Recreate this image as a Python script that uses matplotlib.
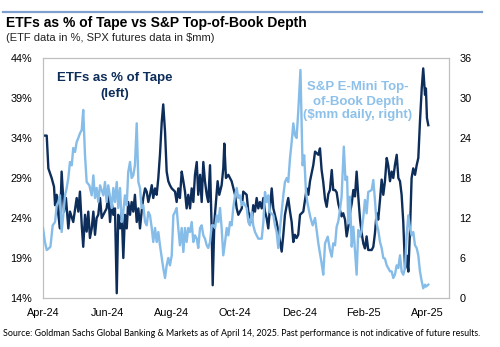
import matplotlib
matplotlib.use("Agg")
import matplotlib.pyplot as plt
from matplotlib.lines import Line2D
import numpy as np

# ---------------- data ----------------
# x = trading-day index since 1-Apr-2024
etf_day = [0, 2.5, 3.6, 5.8, 7.4, 8.1, 9.2, 10.3, 11.4, 12.5, 14.1, 15.4, 17.0, 18.1, 20.3, 22.6, 23.7,
           24.8, 26.0, 27.0, 28.2, 29.3, 30.4, 31.5, 32.7, 33.8, 34.9, 36.0, 37.1, 38.3, 39.4, 41.6,
           42.7, 43.8, 45.0, 46.1, 47.2, 48.3, 49.5, 50.5, 51.7, 52.8, 53.9, 55.0, 56.2, 57.2, 58.4,
           59.5, 60.6, 61.7, 62.9, 64.0, 65.1, 66.2, 67.3, 68.5, 69.6, 70.7, 71.8, 73.0, 74.0, 75.2,
           76.3, 77.4, 78.5, 79.7, 80.7, 81.9, 83.0, 84.1, 85.2, 86.4, 88.6, 89.7, 90.8, 91.9, 93.1,
           94.2, 95.3, 96.4, 97.5, 98.7, 99.8, 100.9, 102.0, 103.2, 104.2, 105.4, 106.5, 107.6, 108.7,
           109.9, 110.9, 112.1, 113.2, 113.9, 115.0, 116.1, 117.2, 118.3, 119.9, 121.0, 121.7, 122.8,
           124.4, 126.6, 128.9, 130.0, 131.1, 132.2, 133.4, 134.4, 136.7, 137.8, 140.1, 141.1, 142.3,
           143.4, 144.5, 145.6, 146.8, 147.9, 149.0, 150.1, 151.2, 152.3, 153.5, 154.6, 156.8, 159.1,
           160.2, 161.3, 162.4, 163.6, 164.6, 165.8, 166.9, 168.0, 169.1, 170.2, 171.3, 172.5, 174.7,
           177.0, 178.1, 179.2, 181.4, 182.6, 184.8, 185.9, 187.0, 188.1, 189.3, 190.4, 191.5, 192.6,
           193.8, 194.8, 196.0, 197.1, 198.2, 199.3, 200.4, 201.5, 202.7, 203.8, 204.9, 206.0, 207.2,
           208.3, 209.4, 210.5, 211.6, 212.8, 213.9, 215.0, 216.1, 217.2, 218.3, 220.6, 221.7, 222.8,
           223.9, 225.0, 226.2, 227.3, 228.4, 229.5, 230.7, 231.7, 232.9, 234.0, 235.1, 236.2, 237.4,
           238.5, 239.6, 240.7, 241.8, 243.0, 244.1, 245.2, 246.3, 247.4, 248.5, 249.7, 250.8, 251.9,
           253.0, 254.2, 255.2, 256.4, 257.0, 257.7, 258.6]
etf_pct = [34.3, 34.3, 30.2, 29.0, 27.9, 25.6, 26.9, 24.4, 22.7, 29.8, 24.8, 26.5, 22.7, 24.8, 23.5, 26.5, 24.8,
           27.3, 23.1, 20.4, 24.4, 22.3, 24.8, 21.5, 22.7, 24.8, 21.9, 24.0, 24.4, 26.5, 24.0, 24.8,
           25.2, 26.9, 23.5, 26.0, 24.4, 25.2, 14.6, 24.4, 22.7, 24.8, 19.0, 24.4, 22.7, 26.0, 24.4,
           26.0, 24.8, 26.9, 23.5, 25.2, 22.7, 24.8, 26.5, 27.7, 27.3, 26.0, 26.9, 28.1, 26.5, 27.7,
           26.9, 29.0, 31.9, 36.0, 38.2, 34.8, 29.8, 28.6, 28.1, 27.7, 27.3, 26.0, 27.7, 26.5, 29.8,
           28.6, 27.3, 25.2, 26.9, 25.2, 27.7, 26.0, 29.4, 31.0, 26.9, 29.4, 26.0, 31.0, 28.6,
           26.9, 26.0, 30.6, 22.7, 15.6, 23.5, 26.0, 28.6, 26.9, 28.1, 30.2, 33.3, 29.0,
           29.4, 28.6, 26.9, 25.2, 24.4, 24.8, 25.2, 27.3, 26.9, 24.8, 23.5, 25.6, 24.8,
           26.5, 25.2, 26.0, 25.2, 26.5, 24.8, 24.0, 22.7, 25.2, 27.7, 25.2, 23.5, 21.0,
           19.8, 21.9, 24.4, 25.6, 26.5, 24.8, 23.5, 21.0, 21.9, 21.5, 21.9, 24.4, 24.8,
           27.7, 26.9, 28.6, 30.6, 32.3, 31.9, 32.7, 30.0, 28.5, 26.3, 25.4, 27.0, 27.5,
           30.0, 27.5, 27.5, 27.2, 25.8, 25.0, 24.2, 24.6, 23.8, 21.7, 22.9, 24.6, 25.8,
           27.5, 26.7, 29.8, 26.7, 23.8, 22.1, 20.8, 20.2, 21.7, 20.0, 20.0, 20.4, 22.1,
           24.6, 23.8, 26.3, 28.8, 26.9, 28.6, 31.5, 30.6, 28.6, 29.8, 29.0, 30.6, 31.9,
           29.0, 28.6, 26.9, 23.5, 17.7, 19.3, 17.3, 22.3, 29.0, 30.2, 29.4, 30.6, 31.5,
           36.0, 40.2, 42.7, 39.4, 40.2, 36.5, 35.6]

depth_day = [0, 1.3, 2.5, 4.2, 5.0, 6.5, 8.1, 9.2, 10.3, 11.4, 12.5, 13.6, 14.8, 15.9, 17.0, 18.1, 19.3,
             20.3, 21.5, 22.6, 23.7, 24.8, 26.0, 27.0, 28.2, 29.3, 31.1, 32.7, 33.8, 34.9, 36.0, 37.1,
             38.3, 40.5, 41.6, 42.7, 43.8, 46.1, 47.2, 48.3, 49.5, 50.5, 51.7, 52.8, 53.9, 55.0, 56.2,
             57.2, 58.4, 59.5, 60.6, 61.7, 62.9, 64.0, 65.1, 66.2, 67.3, 68.5, 69.6, 70.7, 71.8, 73.0,
             74.0, 75.2, 76.3, 77.4, 78.5, 79.7, 80.7, 81.9, 83.0, 84.1, 85.2, 86.4, 87.5, 88.6, 89.7,
             90.8, 91.9, 93.1, 94.2, 95.3, 96.4, 97.5, 98.7, 99.8, 100.9, 102.0, 103.2, 104.2, 105.4,
             106.5, 107.6, 108.7, 109.9, 110.9, 112.1, 113.2, 114.3, 115.5, 116.6, 117.7, 118.8, 119.9,
             121.0, 122.2, 123.3, 124.4, 125.5, 126.6, 127.7, 128.9, 130.0, 131.1, 132.2, 133.4, 134.4,
             136.7, 137.8, 138.9, 140.1, 141.1, 142.3, 144.5, 146.8, 147.9, 149.0, 150.1, 151.2, 152.3,
             154.6, 155.7, 156.8, 157.9, 159.1, 160.2, 161.3, 162.4, 163.6, 164.6, 165.8, 166.9, 168.0,
             169.1, 170.2, 171.3, 172.8, 174.2, 175.3, 176.5, 177.4, 178.7, 179.7, 181.0, 182.6, 184.8,
             187.0, 188.1, 189.3, 191.1, 192.6, 193.8, 194.8, 196.0, 197.1, 198.2, 199.3, 200.4, 201.9,
             203.0, 204.1, 204.9, 206.0, 207.2, 208.3, 209.4, 210.5, 211.6, 212.8, 213.9, 215.0, 216.1,
             217.2, 218.3, 220.6, 221.7, 222.8, 223.9, 225.0, 226.2, 227.3, 228.4, 229.5, 230.7, 231.7,
             232.9, 234.0, 235.1, 236.2, 237.4, 238.5, 239.6, 240.7, 241.8, 243.0, 244.1, 245.2, 246.3,
             247.4, 248.5, 249.7, 250.8, 251.9, 253.0, 254.2, 255.2, 256.4, 257.0, 258.6]
depth_mm = [10.5, 8.4, 7.2, 7.5, 7.7, 10.9, 11.4, 13.9, 14.4, 15.4, 9.9, 12.4, 15.4, 16.5, 18.0, 20.4, 19.9,
            22.5, 21.9, 23.4, 24.0, 24.7, 25.2, 28.2, 21.4, 17.4, 16.9, 15.4, 18.4, 15.0, 16.5, 14.4,
            16.9, 15.4, 17.4, 14.4, 16.9, 13.5, 16.5, 14.4, 17.4, 13.5, 16.5, 11.4, 12.9, 15.4, 13.9,
            18.9, 20.4, 18.0, 18.4, 19.9, 26.2, 17.4, 16.5, 13.5, 13.9, 11.4, 10.9, 12.9, 12.4, 10.5,
            8.4, 10.5, 8.4, 9.9, 7.9, 6.0, 4.5, 3.0, 4.9, 6.0, 4.9, 6.4, 12.4, 12.9, 13.5,
            10.5, 7.9, 10.5, 6.9, 10.5, 8.4, 10.5, 9.9, 11.4, 8.4, 9.4, 8.9, 7.5, 10.5,
            10.9, 9.4, 8.9, 7.9, 7.5, 8.4, 10.9, 10.9, 10.5, 12.4, 11.4, 13.5, 10.5,
            6.4, 8.4, 10.5, 9.4, 11.4, 10.9, 13.5, 15.4, 16.5, 15.0, 15.4, 13.9, 14.4,
            13.5, 11.4, 10.9, 12.9, 10.9, 9.9, 8.9, 8.9, 11.4, 15.9, 14.4, 15.4, 12.9,
            12.4, 10.9, 9.9, 7.5, 10.5, 12.9, 15.4, 17.4, 18.0, 17.4, 21.0, 23.4, 26.2,
            24.4, 24.0, 27.9, 34.2, 19.9, 21.4, 15.9, 14.4, 12.9, 11.9, 10.9, 12.0, 8.2,
            5.2, 3.5, 8.2, 9.2, 7.2, 6.2, 8.2, 7.9, 10.7, 11.5, 13.2, 15.2, 22.7,
            17.7, 18.2, 11.2, 15.2, 7.7, 10.7, 7.2, 3.5, 10.2, 9.2, 10.2, 12.2, 14.7,
            12.7, 15.9, 16.2, 17.7, 14.7, 11.2, 10.2, 8.4, 7.5, 6.0, 5.9, 4.9, 4.5,
            4.0, 4.0, 3.0, 3.5, 4.9, 4.5, 6.4, 4.0, 3.5, 4.5, 9.5, 12.4, 10.5,
            9.4, 9.9, 7.9, 7.5, 6.4, 4.0, 2.5, 1.45, 2.0, 1.7, 2.0]

tick_days = [0, 43, 86, 129, 172, 215, 258]
tick_labels = ["Apr-24", "Jun-24", "Aug-24", "Oct-24", "Dec-24", "Feb-25", "Apr-25"]
left_ticks = [14, 19, 24, 29, 34, 39, 44]
right_ticks = [0, 6, 12, 18, 24, 30, 36]

# ---------------- styling ----------------
plt.rcParams['font.family'] = ['Liberation Sans', 'DejaVu Sans']
DARK = '#0d2d5a'
LIGHT = '#86bce8'
FRAME = '#bfbfbf'

W, H = 500, 347
fig = plt.figure(figsize=(W / 100, H / 100), dpi=100)

def fx(x):
    return x / W

def fy(y):
    return 1 - y / H

L, R, T, B = 43, 449, 58, 298
ax = fig.add_axes([fx(L), fy(B), (R - L) / W, (B - T) / H])
ax2 = ax.twinx()

ax.plot(etf_day, etf_pct, color=DARK, lw=1.7, solid_joinstyle='round', zorder=3)
ax2.plot(depth_day, depth_mm, color=LIGHT, lw=1.7, solid_joinstyle='round', zorder=3)

ax.set_xlim(0, 272.5)
ax.set_ylim(14, 44)
ax2.set_ylim(0, 36)
ax.set_yticks(left_ticks)
ax.set_yticklabels([f"{v}%" for v in left_ticks])
ax2.set_yticks(right_ticks)
ax2.set_yticklabels([str(v) for v in right_ticks])
ax.set_xticks(tick_days)
ax.set_xticklabels(tick_labels)

for a in (ax, ax2):
    a.tick_params(length=0, labelsize=7.8, colors='black')
    for s in a.spines.values():
        s.set_color(FRAME)
        s.set_linewidth(0.8)
ax.tick_params(axis='y', pad=8)
ax2.tick_params(axis='y', pad=7.5)
ax.tick_params(axis='x', pad=7)

# annotations
ax.text(fx(115), fy(81.5), "ETFs as % of Tape", transform=fig.transFigure, ha='center',
        va='baseline', fontsize=9.5, fontweight='bold', color=DARK)
ax.text(fx(115), fy(96.5), "(left)", transform=fig.transFigure, ha='center',
        va='baseline', fontsize=9.5, fontweight='bold', color=DARK)
for txt, yb in [("S&P E-Mini Top-", 90), ("of-Book Depth", 104.5), ("($mm daily, right)", 118)]:
    ax2.text(fx(358), fy(yb), txt, transform=fig.transFigure, ha='center', va='baseline',
             fontsize=9.5, fontweight='bold', color='#8ec1ea', zorder=5)

# header
fig.add_artist(Line2D([fx(3), fx(482)], [fy(12), fy(12)], color='#7f9fcf', lw=1.6))
fig.text(fx(6), fy(27.5), "ETFs as % of Tape vs S&P Top-of-Book Depth", ha='left', va='baseline',
         fontsize=10, fontweight='bold', color='black')
fig.text(fx(6), fy(41.3), "(ETF data in %, SPX futures data in $mm)", ha='left', va='baseline',
         fontsize=8, color='#222222')

fig.text(fx(3), fy(336), "Source: Goldman Sachs Global Banking & Markets as of April 14, 2025. "
         "Past performance is not indicative of future results.", ha='left', va='baseline',
         fontsize=6.4, color='black', family=['Lato', 'DejaVu Sans'])

fig.savefig("out.png", dpi=100)
